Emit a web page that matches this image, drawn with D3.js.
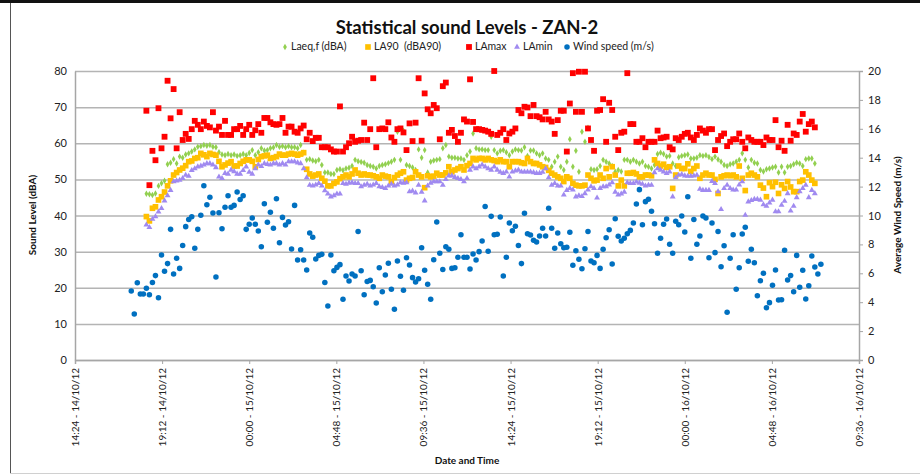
<!DOCTYPE html>
<html><head><meta charset="utf-8">
<script src="https://cdn.jsdelivr.net/npm/d3@7"></script>
<style>
body{margin:0;background:#fff;}
svg{display:block;font-family:Lato,"Open Sans",sans-serif;}
</style>
</head><body>
<svg id="chart" width="920" height="475"></svg>
<script>
// ---------- DATA ----------
const chartTitle = "Statistical sound Levels - ZAN-2";
const seriesNames = ["Laeq,f (dBA)", "LA90  (dBA90)", "LAmax", "LAmin", "Wind speed (m/s)"];
const xTickLabels = ["14:24 - 14/10/12","19:12 - 14/10/12","00:00 - 15/10/12","04:48 - 15/10/12","09:36 - 15/10/12",
                     "14:24 - 15/10/12","19:12 - 15/10/12","00:00 - 16/10/12","04:48 - 16/10/12","09:36 - 16/10/12"];
const leftTicks = [0,10,20,30,40,50,60,70,80];
const rightTicks = [0,2,4,6,8,10,12,14,16,18,20];
const windStart = "2012-10-14T17:30:00Z";
const soundStart = "2012-10-14T18:20:00Z";
const intervalMinutes = 10;

const laeq = [46.0,45.9,45.7,46.1,48.2,48.9,49.6,54.2,54.6,55.6,
54.4,56.3,56.0,56.9,57.2,57.7,58.3,59.0,59.2,59.5,
59.3,59.5,59.0,58.9,57.5,56.9,56.7,57.0,56.7,56.9,
56.5,56.7,57.0,56.7,57.3,58.1,56.7,57.5,58.6,58.0,
58.1,58.6,58.8,59.5,59.0,59.2,58.9,59.2,58.9,58.9,
58.6,59.5,57.4,55.4,55.6,55.2,55.0,55.4,54.0,51.9,
51.9,51.5,51.5,52.6,52.8,52.5,53.0,53.2,53.7,55.4,
55.0,54.8,54.6,54.0,53.7,53.5,53.0,53.7,54.0,54.2,
54.5,54.9,55.4,63.2,55.4,63.5,54.0,53.7,53.3,52.6,
58.3,56.0,58.1,51.9,54.9,55.2,55.4,55.6,58.6,59.5,
56.3,56.0,56.0,55.8,55.8,55.4,56.7,57.7,62.7,58.6,
58.3,58.3,58.1,58.1,61.8,58.1,57.2,57.9,58.1,57.5,
56.7,57.7,58.3,58.1,58.0,58.9,56.5,58.0,58.0,57.2,
56.7,57.2,55.8,55.4,53.5,54.9,56.3,53.5,52.6,54.9,
61.1,53.5,57.9,52.1,63.2,60.4,64.3,52.8,52.6,52.8,
53.7,55.4,54.9,54.4,53.7,52.1,52.6,52.2,55.4,55.4,
54.9,55.4,54.9,54.4,54.9,53.7,53.5,53.0,54.0,57.0,
57.4,57.0,56.3,56.5,54.4,53.7,56.1,56.5,56.7,56.9,
55.8,55.8,56.0,56.7,56.5,56.7,56.2,55.6,56.3,55.5,
54.9,54.0,53.7,54.2,54.4,54.9,55.4,57.2,55.4,53.3,
55.4,54.6,54.4,52.6,52.2,52.8,53.0,53.3,53.5,51.9,
53.5,51.9,53.5,53.7,54.2,54.6,54.4,53.7,55.6,55.8,
55.8,54.4];

const la90 = [39.7,38.5,42.0,42.4,44.3,45.2,46.5,48.2,49.6,51.2,
51.9,52.6,53.1,53.8,54.9,55.1,55.8,56.0,57.2,56.8,
56.3,57.2,56.9,56.7,55.0,53.5,54.0,54.5,54.9,53.7,
53.7,54.4,55.0,55.4,55.4,55.0,53.5,55.5,56.3,56.5,
56.7,55.8,56.0,56.3,57.0,56.7,56.7,57.0,57.2,57.0,
56.7,57.0,57.4,52.8,51.5,50.9,51.2,51.5,50.3,49.5,
48.2,48.2,48.9,49.3,50.2,50.7,51.2,50.7,51.5,52.6,
51.7,51.2,51.5,51.2,51.2,51.0,50.7,50.3,51.2,50.9,
50.7,49.4,50.5,51.2,51.7,52.1,49.8,50.3,50.5,52.1,
51.2,50.7,47.7,51.0,50.7,50.9,51.7,51.2,51.2,51.8,
53.5,52.1,52.6,53.0,53.5,52.6,53.8,54.4,55.8,55.4,
55.8,55.8,55.4,55.8,55.4,55.2,54.9,55.4,54.9,54.9,
53.5,54.9,54.9,54.9,54.6,54.4,55.8,54.9,54.4,54.4,
54.0,53.5,53.3,52.5,51.7,51.2,50.7,50.3,49.4,50.7,
50.3,48.9,48.4,48.2,48.2,48.4,51.2,50.3,49.6,49.8,
51.2,50.3,53.0,50.7,53.5,51.2,48.2,49.8,48.2,51.7,
51.7,51.9,51.5,50.7,50.7,51.2,51.2,51.0,55.4,54.4,
53.7,54.2,53.3,53.5,47.5,51.2,53.7,53.0,53.0,54.3,
52.2,53.0,53.7,50.3,51.2,51.7,51.2,51.2,50.0,46.1,
50.7,51.0,51.2,51.0,51.2,50.7,53.7,50.3,46.9,51.2,
51.7,51.2,50.7,48.4,47.6,45.2,49.1,48.0,49.2,46.1,
48.5,47.5,49.4,47.9,46.6,46.6,49.4,49.8,52.1,51.2,
49.8,48.9];

const lamax = [69.0,48.4,57.9,55.3,69.7,58.6,61.8,77.3,66.9,75.0,
58.6,68.6,60.9,62.6,61.2,63.9,66.2,65.1,63.9,66.0,
64.8,64.4,68.6,63.5,64.6,62.3,66.2,62.3,62.3,63.9,
63.9,64.8,62.3,63.9,65.1,62.3,63.6,65.3,62.9,67.0,
67.0,65.8,65.3,65.1,65.3,67.0,62.9,64.6,
64.6,63.2,62.9,64.1,64.9,61.1,62.9,60.6,61.5,61.5,
58.9,58.9,58.9,58.3,57.7,57.7,70.2,57.7,58.9,60.0,
61.8,60.4,60.7,60.9,65.7,60.9,63.9,78.0,58.9,63.9,
64.1,63.9,65.8,61.6,60.4,63.9,64.1,63.0,58.1,65.5,
60.6,65.7,78.0,60.7,73.8,69.4,68.3,70.6,69.7,61.1,
75.8,76.8,62.9,63.7,62.0,60.4,62.9,66.6,66.0,77.7,
65.9,63.9,63.9,
63.7,63.5,63.2,62.6,80.0,62.3,62.9,63.9,60.9,62.7,
63.2,64.1,69.2,68.3,70.1,69.9,67.5,70.6,67.5,67.2,
66.6,68.7,66.6,66.0,62.6,66.4,69.0,69.0,57.7,71.0,
79.4,68.7,79.8,68.7,79.8,64.1,60.9,57.9,69.0,69.2,
72.2,60.4,71.2,69.2,61.8,58.1,62.9,63.2,79.4,65.3,
65.3,60.4,60.4,61.4,58.9,60.4,60.4,60.4,63.5,61.4,
61.6,61.8,58.9,58.3,61.4,60.9,61.8,62.6,62.9,61.6,
60.9,62.3,64.1,63.5,62.9,63.9,63.9,58.1,60.9,62.0,
62.7,59.2,60.4,61.1,61.1,62.7,60.4,58.6,61.6,60.9,
60.4,60.4,60.4,59.5,61.6,60.9,60.9,66.4,58.9,60.7,
57.9,65.1,60.7,62.7,62.3,66.0,68.1,63.2,65.3,66.0,
64.4];

const lamin = [37.4,36.7,39.0,39.7,41.0,42.0,44.1,45.5,47.0,49.4,
49.6,49.8,50.3,51.2,50.9,52.5,53.0,53.5,53.7,54.0,
54.4,54.4,54.0,53.3,50.7,50.3,51.7,51.5,52.6,52.2,
51.5,51.5,52.5,53.5,52.0,51.5,53.0,54.0,53.6,54.4,
54.2,54.0,54.4,54.4,54.0,54.4,54.0,54.9,54.9,54.9,
54.6,54.4,53.0,50.5,48.4,48.2,48.5,48.9,48.2,46.9,
46.0,45.2,45.5,46.0,46.0,48.9,48.7,49.0,49.1,48.9,
48.9,48.0,48.4,48.7,48.2,48.5,48.9,48.0,47.8,47.5,
48.2,48.7,48.2,48.5,49.1,49.0,49.1,46.6,46.8,46.3,
48.4,46.5,44.1,48.2,49.0,49.4,49.4,49.4,48.4,50.0,
51.0,51.0,50.6,50.3,50.0,49.4,50.3,52.6,53.5,53.0,
53.5,54.0,53.5,53.0,52.6,53.5,52.6,52.0,51.7,52.1,
50.7,52.1,52.4,52.6,52.1,52.1,52.1,52.1,51.9,51.7,
51.7,52.0,53.0,50.5,48.4,48.9,48.2,48.2,45.7,47.0,
47.5,47.1,45.2,45.5,45.3,46.1,47.1,48.0,47.5,44.9,
47.5,48.0,48.0,48.5,49.1,46.5,45.7,46.0,46.5,49.1,
48.9,48.9,49.3,49.0,48.7,48.2,48.4,48.4,51.9,53.0,
52.6,52.1,51.7,52.1,45.2,50.5,51.2,51.4,51.0,50.9,
50.9,51.0,51.2,47.3,47.0,47.0,47.0,49.5,48.9,46.6,
41.7,47.5,48.4,47.5,47.1,47.1,48.5,49.4,40.1,43.8,
44.2,44.5,44.5,44.3,43.0,42.6,43.5,44.3,41.1,41.1,
42.9,44.0,46.1,41.3,42.6,45.0,46.6,47.5,48.4,45.0,
47.0,46.1];

const wind = [4.78,3.18,5.35,4.57,4.57,4.96,4.52,5.37,5.84,4.31,
7.27,6.14,6.67,9.04,5.95,7.04,6.34,7.93,9.23,9.73,
9.92,7.73,9.04,10.01,12.06,10.75,11.26,10.17,5.74,10.19,
9.09,10.57,11.37,10.57,10.7,11.63,11.1,11.37,9.04,9.39,
9.83,9.39,8.93,7.84,10.82,9.53,10.22,9.11,11.16,8.12,
9.87,9.34,9.57,
7.68,10.7,6.92,7.63,6.92,6.23,8.79,8.49,6.99,7.24,
7.31,5.37,3.74,7.27,6.18,6.41,6.6,4.2,5.81,5.47,
5.95,5.81,8.9,6.18,4.52,5.44,5.51,5.07,3.94,6.39,
4.73,5.88,6.69,4.89,3.51,6.85,5.79,4.82,7.08,6.57,
5.7,5.4,5.63,7.77,6.21,5.24,4.2,6.94,9.55,7.38,
6.27,7.84,7.66,6.34,6.39,7.11,8.67,7.11,7.11,6.3,
7.34,6.92,7.5,
8.24,10.63,7.52,9.94,8.67,8.7,9.9,5.81,7.11,9.48,
8.95,9.25,7.93,6.67,10.15,8.74,8.65,8.28,8.17,8.58,
9.11,8.58,10.5,9.11,7.73,8.79,8.05,7.77,7.8,8.84,
6.55,7.56,6.97,6.32,7.7,8.9,6.85,6.73,7.24,6.34,
7.66,8.46,9.02,6.64,9.78,8.56,8.24,8.42,8.74,8.97,
9.48,10.8,11.79,9.36,10.96,11.12,10.29,9.43,7.38,8.42,
9.39,9.76,8.01,
7.38,9.6,9.36,9.97,8.86,11.3,7.04,9.73,8.01,8.58,
9.97,9.83,7.08,9.48,7.43,8.9,6.46,7.91,3.3,7.04,
8.67,4.89,6.39,8.72,9.18,6.83,7.66,6.73,4.45,5.49,
6.0,3.62,3.97,5.17,6.23,4.15,4.17,7.59,5.54,5.84,
4.73,7.24,5.03,6.21,4.22,5.14,7.2,6.44,5.95,6.62];

// ---------- CHART ----------
const W = 920, H = 475;
const m = {left: 75, right: 859, top: 71, bottom: 360};
const svg = d3.select("#chart");

const t0 = new Date(Date.UTC(2012, 9, 14, 14, 24));
const t1 = new Date(Date.UTC(2012, 9, 16, 9, 36));
const x = d3.scaleUtc().domain([t0, t1]).range([m.left, m.right]);
const yL = d3.scaleLinear().domain([0, 80]).range([m.bottom, m.top]);
const yR = d3.scaleLinear().domain([0, 20]).range([m.bottom, m.top]);
const tickDates = xTickLabels.map((_, i) => new Date(t0.getTime() + i * 4.8 * 3600e3));

const timeAt = (start, i) => new Date(new Date(start).getTime() + i * intervalMinutes * 60e3);
const toPts = (arr, start) => arr.map((v, i) => ({t: timeAt(start, i), v}));

// frame
svg.append("rect").attr("x",0).attr("y",0).attr("width",W).attr("height",3).attr("fill","#111");
svg.append("line").attr("x1",10.5).attr("x2",10.5).attr("y1",3).attr("y2",474).attr("stroke","#555").attr("stroke-width",1);
svg.append("line").attr("x1",10).attr("x2",W).attr("y1",473.5).attr("y2",473.5).attr("stroke","#d0d0d0").attr("stroke-width",1);

// gridlines
const grid = svg.append("g")
  .attr("transform", `translate(${m.left},0)`)
  .call(d3.axisLeft(yL).tickValues(leftTicks).tickSize(-(m.right - m.left)).tickFormat(""));
grid.select(".domain").remove();
grid.selectAll("line").attr("stroke", "#b4b4b4").attr("stroke-width", 1.5);

// left axis
const axL = svg.append("g").attr("transform", `translate(${m.left},0)`)
  .call(d3.axisLeft(yL).tickValues(leftTicks).tickSize(0).tickPadding(8));
axL.select(".domain").attr("stroke", "#a6a6a6").attr("stroke-width", 1.5);
axL.selectAll("text").attr("font-size", 11).attr("fill", "#222").attr("font-family","Lato");

// right axis
const axR = svg.append("g").attr("transform", `translate(${m.right},0)`)
  .call(d3.axisRight(yR).tickValues(rightTicks).tickSize(4).tickPadding(5));
axR.select(".domain").attr("stroke", "#a6a6a6").attr("stroke-width", 1.5);
axR.selectAll("line").attr("stroke", "#a6a6a6");
axR.selectAll("text").attr("font-size", 11).attr("fill", "#222").attr("font-family","Lato");

// x axis
const axX = svg.append("g").attr("transform", `translate(0,${m.bottom})`)
  .call(d3.axisBottom(x).tickValues(tickDates).tickSize(4).tickFormat((d, i) => xTickLabels[i]));
axX.select(".domain").attr("stroke", "#a6a6a6").attr("stroke-width", 1.5);
axX.selectAll("line").attr("stroke", "#a6a6a6");
axX.selectAll("text")
  .attr("font-size", 10).attr("fill", "#222").attr("font-family","Lato")
  .attr("transform", "rotate(-90)")
  .attr("text-anchor", "end").attr("dy", "0.35em").attr("x", -8).attr("y", 0);

// titles
svg.append("text").attr("x", 467).attr("y", 34).attr("text-anchor", "middle")
  .attr("font-size", 18.5).attr("font-weight", "bold").attr("fill", "#111").text(chartTitle);
svg.append("text").attr("x", 467).attr("y", 464).attr("text-anchor", "middle")
  .attr("font-size", 10).attr("font-weight", "bold").attr("fill", "#111").text("Date and Time");
svg.append("text").attr("transform", "translate(36,215) rotate(-90)").attr("text-anchor", "middle")
  .attr("font-size", 10).attr("font-weight", "bold").attr("fill", "#111").text("Sound Level (dBA)");
svg.append("text").attr("transform", "translate(901,215) rotate(-90)").attr("text-anchor", "middle")
  .attr("font-size", 10).attr("font-weight", "bold").attr("fill", "#111").text("Average Wind Speed (m/s)");

// series
const colors = ["#92D050", "#FFC000", "#FF0000", "#A08AF0", "#0070C0"];
const symbols = [
  d3.symbol().type(d3.symbolDiamond).size(12),
  d3.symbol().type(d3.symbolSquare).size(32),
  d3.symbol().type(d3.symbolSquare).size(34),
  d3.symbol().type(d3.symbolTriangle).size(15),
  d3.symbol().type(d3.symbolCircle).size(24)
];
const soundSeries = [laeq, la90, lamax, lamin];
const plotG = svg.append("g");
soundSeries.forEach((arr, k) => {
  plotG.append("g").selectAll("path").data(toPts(arr, soundStart)).join("path")
    .attr("d", symbols[k])
    .attr("transform", d => `translate(${x(d.t)},${yL(d.v)})`)
    .attr("fill", colors[k]);
});
plotG.append("g").selectAll("path").data(toPts(wind, windStart)).join("path")
  .attr("d", symbols[4])
  .attr("transform", d => `translate(${x(d.t)},${yR(d.v)})`)
  .attr("fill", colors[4]);

// legend
const legend = svg.append("g").attr("transform", "translate(0,50)");
const legX = [285, 368, 469, 517, 567];
seriesNames.forEach((name, k) => {
  legend.append("path").attr("d", symbols[k]).attr("transform", `translate(${legX[k]},-3)`).attr("fill", colors[k]);
  legend.append("text").attr("x", legX[k] + 6).attr("y", 0).attr("font-size", 10.5).attr("fill", "#222")
    .attr("xml:space","preserve").style("white-space","pre").text(name);
});
</script>
</body></html>
